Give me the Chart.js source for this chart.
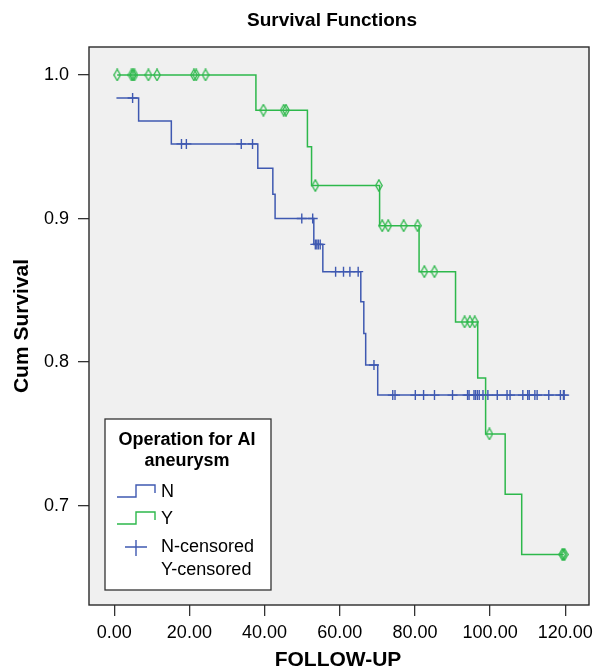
<!DOCTYPE html>
<html>
<head>
<meta charset="utf-8">
<script src="https://cdn.jsdelivr.net/npm/chart.js@4"></script>
<style>
html,body{margin:0;padding:0;background:#fff;}
#wrap{width:596px;height:670px;position:relative;}
</style>
</head>
<body>
<div id="wrap"><canvas id="c" width="596" height="670"></canvas></div>
<script>
// ---- Data ----
const chartTitle = "Survival Functions";
const xTitle = "FOLLOW-UP";
const yTitle = "Cum Survival";
const legendTitle = ["Operation for AI", "aneurysm"];
const groupLabels = ["N", "Y"];
const censorLabels = ["N-censored", "Y-censored"];

const xTicks = [0, 20, 40, 60, 80, 100, 120];
const yTicks = [0.7, 0.8, 0.9, 1.0];

// Group N: step curve (time of change, survival after change)
const nTimes = [0.6, 6.5, 15.2, 38.2, 42.2, 42.8, 53.1, 55.5, 65.6, 66.4, 66.9, 70.1, 119.7];
const nSurv  = [0.984, 0.968, 0.952, 0.935, 0.917, 0.900, 0.882, 0.863, 0.842, 0.820, 0.798, 0.777, 0.777];
// Group N censored observations
const nCensTimes = [4.9, 17.9, 19.2, 33.8, 36.8, 49.9, 52.8, 53.5, 53.9, 54.3, 54.8, 58.9, 61.0, 62.7, 64.9, 69.1,
  74.1, 74.7, 80.1, 82.3, 85.2, 90.0, 94.0, 94.4, 95.7, 96.1, 96.6, 97.1, 98.1, 99.4, 101.9, 104.5, 105.3,
  108.7, 110.0, 110.4, 111.9, 112.5, 115.6, 118.7, 119.5, 119.7];
const nCensSurv = [0.984, 0.952, 0.952, 0.952, 0.952, 0.900, 0.900, 0.882, 0.882, 0.882, 0.882, 0.863, 0.863, 0.863, 0.863, 0.798,
  0.777, 0.777, 0.777, 0.777, 0.777, 0.777, 0.777, 0.777, 0.777, 0.777, 0.777, 0.777, 0.777, 0.777, 0.777, 0.777, 0.777,
  0.777, 0.777, 0.777, 0.777, 0.777, 0.777, 0.777, 0.777, 0.777];

// Group Y: step curve
const yTimes = [0.8, 37.7, 51.4, 52.5, 70.6, 81.1, 90.8, 96.7, 98.8, 104.0, 108.4, 119.6];
const ySurv  = [1.0, 0.9755, 0.950, 0.923, 0.895, 0.863, 0.828, 0.789, 0.750, 0.708, 0.666, 0.666];
// Group Y censored observations
const yCensTimes = [0.8, 4.6, 5.0, 5.4, 9.1, 11.4, 21.2, 21.8, 24.3, 39.7, 45.1, 45.7, 53.5, 70.4, 71.3, 72.9, 77.0, 80.7,
  82.5, 85.2, 93.2, 94.6, 95.9, 99.8, 119.2, 119.5, 119.8];
const yCensSurv = [1.0, 1.0, 1.0, 1.0, 1.0, 1.0, 1.0, 1.0, 1.0, 0.9755, 0.9755, 0.9755, 0.923, 0.923, 0.895, 0.895, 0.895, 0.895,
  0.863, 0.863, 0.828, 0.828, 0.828, 0.750, 0.666, 0.666, 0.666];

// ---- Styling ----
const BLUE = '#3F59B1';
const GREEN = '#2DB84B';
const FONT = '"Liberation Sans", Arial, sans-serif';

function pts(xs, ys) { return xs.map((x, i) => ({ x: x, y: ys[i] })); }

// tall hollow diamond marker
const diamond = document.createElement('canvas');
diamond.width = 8; diamond.height = 13;
(function () {
  const g = diamond.getContext('2d');
  g.strokeStyle = GREEN; g.lineWidth = 1.3;
  g.beginPath();
  g.moveTo(4, 0.8); g.lineTo(7.2, 6.5); g.lineTo(4, 12.2); g.lineTo(0.8, 6.5); g.closePath();
  g.stroke();
})();

const framePlugin = {
  id: 'frame',
  beforeDraw(chart) {
    const { ctx, chartArea: a } = chart;
    ctx.save();
    ctx.fillStyle = '#fff';
    ctx.fillRect(0, 0, chart.width, chart.height);
    ctx.fillStyle = '#F0F0F0';
    ctx.fillRect(a.left, a.top, a.right - a.left, a.bottom - a.top);
    ctx.restore();
  },
  afterDraw(chart) {
    const { ctx, chartArea: a } = chart;
    ctx.save();
    // frame
    ctx.strokeStyle = '#2a2a2a';
    ctx.lineWidth = 1.4;
    ctx.strokeRect(a.left, a.top, a.right - a.left, a.bottom - a.top);
    // titles
    ctx.fillStyle = '#000';
    ctx.textAlign = 'center';
    ctx.textBaseline = 'middle';
    ctx.font = 'bold 19px ' + FONT;
    ctx.fillText(chartTitle, 332, 21);
    ctx.font = 'bold 21px ' + FONT;
    ctx.fillText(xTitle, 338, 660);
    ctx.save();
    ctx.translate(22, (a.top + a.bottom) / 2);
    ctx.rotate(-Math.PI / 2);
    ctx.fillText(yTitle, 0, 0);
    ctx.restore();

    // legend box
    const L = 105, T = 419, R = 271, B = 590;
    ctx.fillStyle = '#fff';
    ctx.fillRect(L, T, R - L, B - T);
    ctx.strokeStyle = '#333';
    ctx.lineWidth = 1.3;
    ctx.strokeRect(L, T, R - L, B - T);
    ctx.fillStyle = '#000';
    ctx.font = 'bold 18px ' + FONT;
    ctx.textAlign = 'center';
    ctx.fillText(legendTitle[0], 187, 440);
    ctx.fillText(legendTitle[1], 187, 461);
    // step symbols
    const sym = (y, col) => {
      ctx.strokeStyle = col; ctx.lineWidth = 1.4;
      ctx.beginPath();
      ctx.moveTo(117, y + 6); ctx.lineTo(136, y + 6); ctx.lineTo(136, y - 6);
      ctx.lineTo(155, y - 6); ctx.lineTo(155, y + 2);
      ctx.stroke();
    };
    sym(491, BLUE);
    sym(518, GREEN);
    // plus
    ctx.strokeStyle = BLUE; ctx.lineWidth = 1.4;
    ctx.beginPath();
    ctx.moveTo(125, 547); ctx.lineTo(147, 547);
    ctx.moveTo(136, 540); ctx.lineTo(136, 556);
    ctx.stroke();
    ctx.fillStyle = '#000';
    ctx.font = '18px ' + FONT;
    ctx.textAlign = 'left';
    ctx.fillText(groupLabels[0], 161, 492);
    ctx.fillText(groupLabels[1], 161, 519);
    ctx.fillText(censorLabels[0], 161, 547);
    ctx.fillText(censorLabels[1], 161, 570);
    ctx.restore();
  }
};

new Chart(document.getElementById('c'), {
  type: 'scatter',
  data: {
    datasets: [
      { label: 'N', data: pts(nTimes, nSurv), showLine: true, stepped: true, borderColor: BLUE, borderWidth: 1.5, pointRadius: 0, fill: false },
      { label: 'Y', data: pts(yTimes, ySurv), showLine: true, stepped: true, borderColor: GREEN, borderWidth: 1.5, pointRadius: 0, fill: false },
      { label: 'N-censored', data: pts(nCensTimes, nCensSurv), showLine: false, pointStyle: 'cross', pointRadius: 5, borderColor: BLUE, pointBorderWidth: 1.4, backgroundColor: BLUE },
      { label: 'Y-censored', data: pts(yCensTimes, yCensSurv), showLine: false, pointStyle: diamond, pointRadius: 6, borderColor: GREEN }
    ]
  },
  options: {
    responsive: false,
    animation: false,
    events: [],
    layout: { padding: { top: 47, right: 0, left: 0, bottom: 0 } },
    plugins: { legend: { display: false }, title: { display: false }, tooltip: { enabled: false } },
    scales: {
      x: {
        type: 'linear', min: -6.7, max: 126.3,
        afterBuildTicks: s => { s.ticks = xTicks.map(v => ({ value: v })); },
        afterFit: s => { s.height = 65; s.paddingLeft = 0; s.paddingRight = 0; },
        border: { display: false },
        grid: { drawOnChartArea: false, drawTicks: true, tickLength: 11, color: '#333', lineWidth: 1.3 },
        ticks: { callback: v => Number(v).toFixed(2), color: '#000', font: { family: FONT, size: 18 }, padding: 6, maxRotation: 0, autoSkip: false }
      },
      y: {
        type: 'linear', min: 0.6308, max: 1.0195,
        afterBuildTicks: s => { s.ticks = yTicks.map(v => ({ value: v })); },
        afterFit: s => { s.width = 89; s.paddingTop = 0; s.paddingBottom = 0; },
        border: { display: false },
        grid: { drawOnChartArea: false, drawTicks: true, tickLength: 11, color: '#333', lineWidth: 1.3 },
        ticks: { callback: v => Number(v).toFixed(1), color: '#000', font: { family: FONT, size: 18 }, padding: 9 }
      }
    }
  },
  plugins: [framePlugin]
});
</script>
</body>
</html>
